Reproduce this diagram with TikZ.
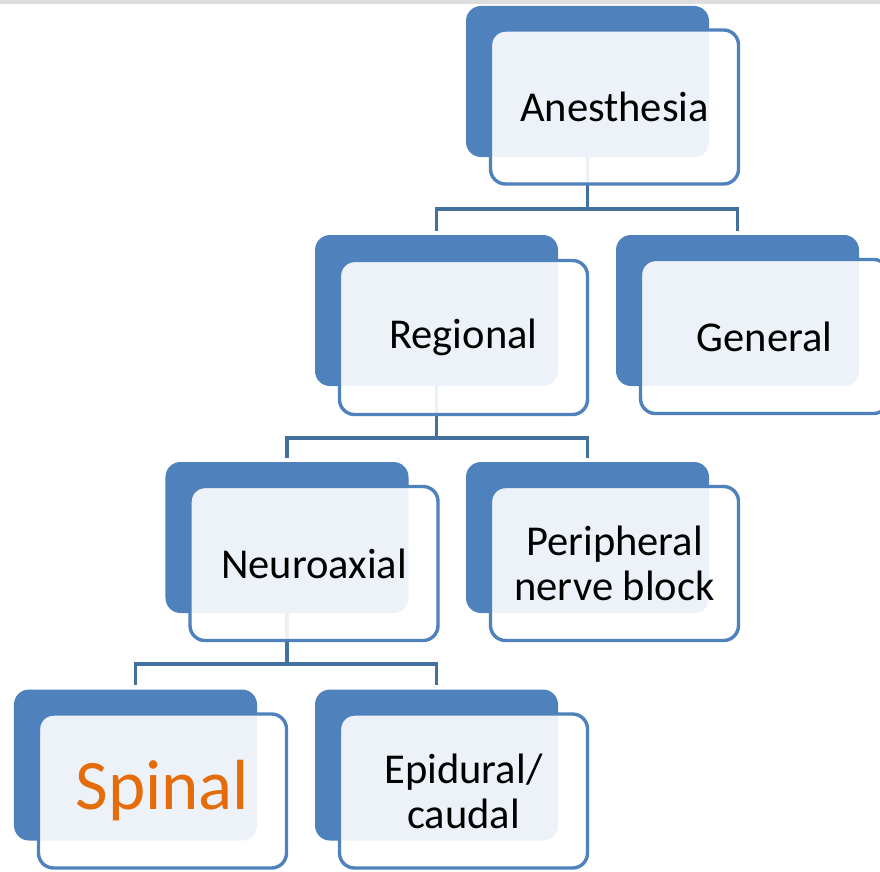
\documentclass[tikz,border=0pt]{standalone}
\usepackage{fontspec}
\setmainfont{Carlito}
\definecolor{backblue}{RGB}{79,129,189}
\definecolor{linkblue}{RGB}{65,113,156}
\definecolor{spinalorange}{RGB}{228,108,10}
\tikzset{
  backbox/.style={draw=none, fill=backblue, rounded corners=0.45cm,
    minimum width=7.29cm, minimum height=4.53cm, inner sep=0pt},
  frontbox/.style={draw=backblue, line width=2.9pt, fill=white, fill opacity=0.9,
    text opacity=1, rounded corners=0.45cm, minimum width=7.44cm, minimum height=4.62cm,
    inner sep=0pt, align=center, font=\fontsize{36.3pt}{38.4pt}\selectfont},
  link/.style={draw=linkblue, line width=2.9pt, shorten >=0.12cm}
}
\begin{document}
\begin{tikzpicture}[x=0.03cm, y=-0.03cm]
\clip (0,0) rectangle (880,871);
\fill[white] (0,0) rectangle (880,871);
\fill[black!13] (0,0) rectangle (880,4);
% back boxes
\node[backbox] (Ab) at (587.5,81.5) {};
\node[backbox] (Rb) at (436.5,310.5) {};
\node[backbox] (Gb) at (737.5,310.5) {};
\node[backbox] (Nb) at (287,537.5) {};
\node[backbox] (Pb) at (587.5,537.5) {};
\node[backbox] (Sb) at (135.5,765) {};
\node[backbox] (Eb) at (436.5,765) {};
% connectors
\coordinate (j1) at (587.5,209);
\coordinate (j2) at (436.5,438);
\coordinate (j3) at (287,664);
\draw[link, shorten >=0pt] (Ab.south) -- (j1);
\draw[link] (j1) -| (Rb.north);
\draw[link] (j1) -| (Gb.north);
\draw[link, shorten >=0pt] (Rb.south) -- (j2);
\draw[link] (j2) -| (Nb.north);
\draw[link] (j2) -| (Pb.north);
\draw[link, shorten >=0pt] (Nb.south) -- (j3);
\draw[link] (j3) -| (Sb.north);
\draw[link] (j3) -| (Eb.north);
% front boxes
\node[frontbox] (A) at (614.5,107) {Anesthesia};
\node[frontbox] (R) at (463.5,337.5) {Regional};
\node[frontbox] (G) at (764.5,336.5) {General};
\node[frontbox] (N) at (314,563.5) {Neuroaxial};
\node[frontbox] (P) at (614.5,563.5) {Peripheral\\nerve block};
\node[frontbox, text=spinalorange, font=\fontsize{60.6pt}{64pt}\selectfont] (S) at (162.5,791) {Spinal};
\node[frontbox] (E) at (463.5,791) {Epidural/\\caudal};
\end{tikzpicture}
\end{document}
